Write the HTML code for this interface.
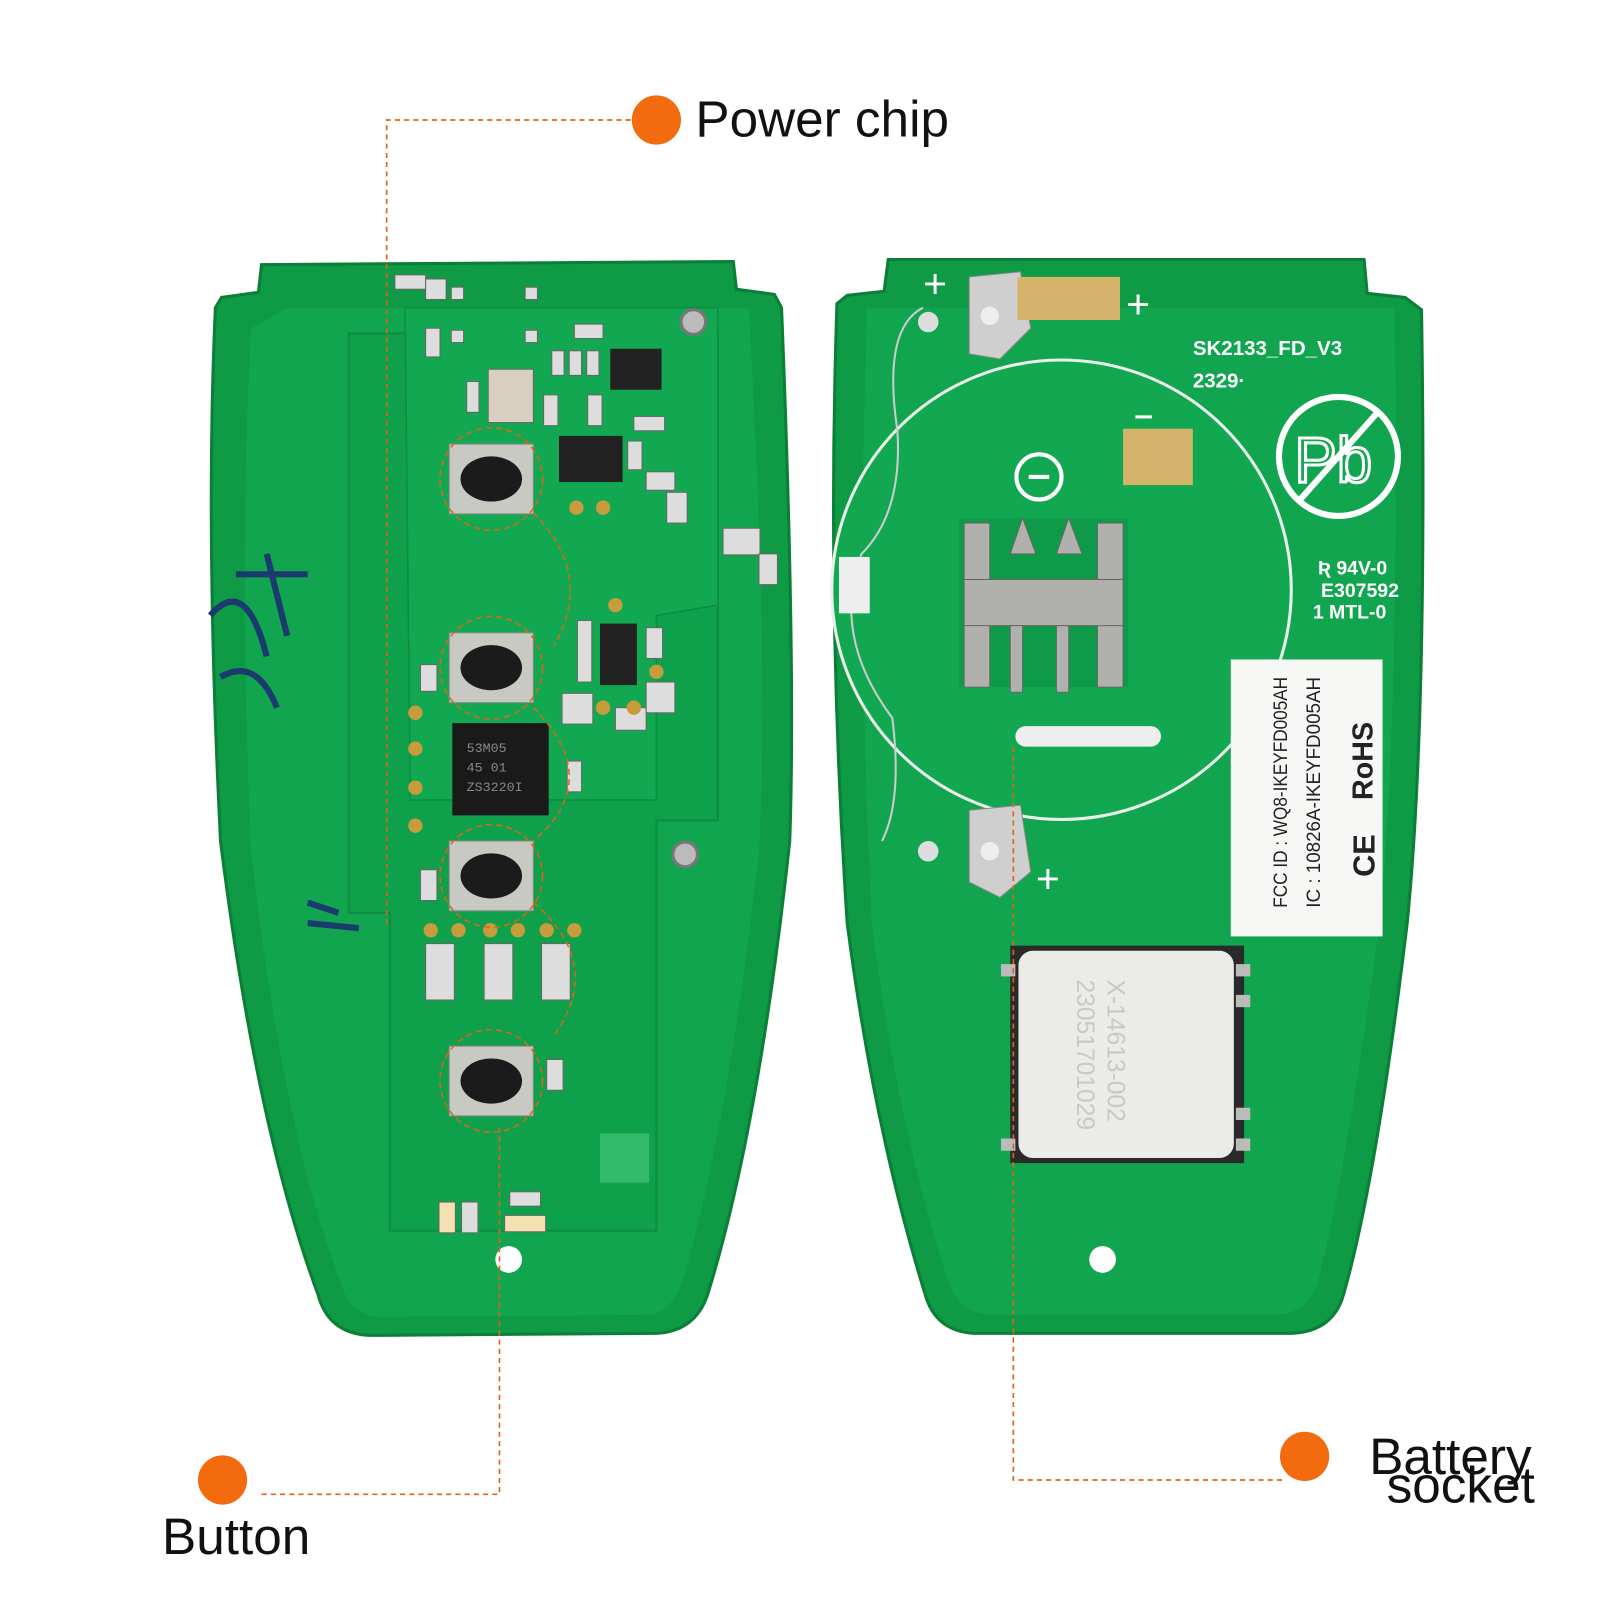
<!DOCTYPE html>
<html><head><meta charset="utf-8"><style>
html,body{margin:0;padding:0;background:#fff;}
svg{display:block}
</style></head><body>
<svg width="1600" height="1600" viewBox="0 0 1560 1560" xmlns="http://www.w3.org/2000/svg" font-family="Liberation Sans, sans-serif">
<rect width="1560" height="1560" fill="#fff"/>
<!-- LEFT BOARD -->
<path d="M255,258 L715,255 L718,282 L755,287 L762,300 Q776,650 770,820 Q740,1100 690,1262 Q678,1298 640,1300 L360,1302 Q320,1300 310,1262 Q250,1100 215,820 Q200,520 210,300 L216,290 L252,285 Z" fill="#0f9a45" stroke="#0b7f38" stroke-width="3"/>
<path d="M280,300 L730,300 Q750,650 740,830 Q710,1100 665,1250 Q655,1280 630,1282 L370,1284 Q340,1282 332,1250 Q275,1100 245,830 Q232,550 245,320 Z" fill="#11a550"/>
<path d="M340,325 L700,325 L700,800 L640,800 L640,1200 L380,1200 L380,890 L340,890 Z" fill="#0fa04c" stroke="#0d8c42" stroke-width="2"/>
<path d="M395,300 L700,300 L700,590 L640,600 L640,780 L400,780 Z" fill="#12a852" stroke="#0d8c42" stroke-width="1.5"/>
<!-- handwriting -->
<path d="M205,600 Q240,560 260,640 M215,660 Q250,640 270,690 M230,560 L300,560 M260,540 L280,620 M300,880 L330,890 M300,900 L350,905" stroke="#1b3a6e" stroke-width="6" fill="none"/>
<!-- components left -->
<g fill="#ddd" stroke="#666" stroke-width="1">
<rect x="385" y="268" width="30" height="14"/><rect x="415" y="272" width="20" height="20"/><rect x="440" y="280" width="12" height="12"/><rect x="512" y="280" width="12" height="12"/>
<rect x="415" y="320" width="14" height="28"/><rect x="440" y="322" width="12" height="12"/><rect x="512" y="322" width="12" height="12"/><rect x="560" y="316" width="28" height="14"/>
<rect x="476" y="360" width="44" height="52" fill="#d8cfc0"/><rect x="455" y="372" width="12" height="30"/>
<rect x="538" y="342" width="12" height="24"/><rect x="555" y="342" width="12" height="24"/><rect x="572" y="342" width="12" height="24"/>
<rect x="530" y="385" width="14" height="30"/><rect x="573" y="385" width="14" height="30"/><rect x="618" y="406" width="30" height="14"/>
<rect x="612" y="430" width="14" height="28"/><rect x="630" y="460" width="28" height="18"/><rect x="650" y="480" width="20" height="30"/>
<rect x="705" y="515" width="36" height="26"/><rect x="740" y="540" width="18" height="30"/>
<rect x="563" y="605" width="14" height="60"/><rect x="630" y="612" width="16" height="30"/>
<rect x="410" y="648" width="16" height="26"/><rect x="548" y="676" width="30" height="30"/><rect x="600" y="690" width="30" height="22"/><rect x="630" y="665" width="28" height="30"/>
<rect x="553" y="742" width="14" height="30"/><rect x="410" y="848" width="16" height="30"/>
<rect x="415" y="920" width="28" height="55"/><rect x="472" y="920" width="28" height="55"/><rect x="528" y="920" width="28" height="55"/>
<rect x="533" y="1033" width="16" height="30"/>
<rect x="428" y="1172" width="16" height="30" fill="#f4e0b0"/><rect x="450" y="1172" width="16" height="30"/><rect x="497" y="1162" width="30" height="14"/><rect x="492" y="1185" width="40" height="16" fill="#f4e0b0"/>
</g>
<rect x="595" y="340" width="50" height="40" fill="#222"/>
<rect x="545" y="425" width="62" height="45" fill="#222"/>
<rect x="585" y="608" width="36" height="60" fill="#222"/>
<rect x="441" y="705" width="94" height="90" fill="#1a1a1a"/>
<text x="455" y="733" font-size="13" fill="#888" font-family="Liberation Mono,monospace">53M05</text>
<text x="455" y="752" font-size="13" fill="#888" font-family="Liberation Mono,monospace">45 01</text>
<text x="455" y="771" font-size="13" fill="#888" font-family="Liberation Mono,monospace">ZS3220I</text>
<g fill="#c89b3c"><circle cx="562" cy="495" r="7"/><circle cx="588" cy="495" r="7"/><circle cx="600" cy="590" r="7"/><circle cx="405" cy="695" r="7"/><circle cx="405" cy="730" r="7"/><circle cx="405" cy="768" r="7"/><circle cx="405" cy="805" r="7"/><circle cx="588" cy="690" r="7"/><circle cx="618" cy="690" r="7"/><circle cx="640" cy="655" r="7"/>
<circle cx="420" cy="907" r="7"/><circle cx="447" cy="907" r="7"/><circle cx="478" cy="907" r="7"/><circle cx="505" cy="907" r="7"/><circle cx="533" cy="907" r="7"/><circle cx="560" cy="907" r="7"/></g>
<g>
<rect x="438" y="433" width="82" height="68" fill="#c9c9c3" stroke="#8a8a84"/><ellipse cx="479" cy="467" rx="30" ry="22" fill="#1b1b1b"/>
<rect x="438" y="617" width="82" height="68" fill="#c9c9c3" stroke="#8a8a84"/><ellipse cx="479" cy="651" rx="30" ry="22" fill="#1b1b1b"/>
<rect x="438" y="820" width="82" height="68" fill="#c9c9c3" stroke="#8a8a84"/><ellipse cx="479" cy="854" rx="30" ry="22" fill="#1b1b1b"/>
<rect x="438" y="1020" width="82" height="68" fill="#c9c9c3" stroke="#8a8a84"/><ellipse cx="479" cy="1054" rx="30" ry="22" fill="#1b1b1b"/>
</g>
<circle cx="676" cy="314" r="12" fill="#bbb" stroke="#777" stroke-width="3"/>
<circle cx="668" cy="833" r="12" fill="#bbb" stroke="#777" stroke-width="3"/>
<circle cx="496" cy="1228" r="13" fill="#fff"/>
<rect x="585" y="1105" width="48" height="48" fill="#3bbf72" opacity=".8"/>
<!-- orange dashed circles -->
<g fill="none" stroke="#e06418" stroke-width="1.5" stroke-dasharray="6,4">
<circle cx="479" cy="467" r="50"/><circle cx="479" cy="651" r="50"/><circle cx="479" cy="854" r="50"/><circle cx="479" cy="1054" r="50"/>
<path d="M520,500 Q580,560 540,630 M520,690 Q590,760 520,820 M520,880 Q590,940 540,1010"/>
</g>

<!-- RIGHT BOARD -->
<path d="M866,253 L1330,253 L1333,286 L1370,290 L1386,302 Q1392,700 1372,900 Q1342,1150 1310,1262 Q1300,1298 1260,1300 L950,1300 Q912,1298 902,1262 Q852,1100 826,900 Q806,600 816,296 L826,288 L862,284 Z" fill="#0f9a45" stroke="#0b7f38" stroke-width="3"/>
<path d="M845,300 L1360,300 Q1365,700 1345,900 Q1315,1130 1285,1250 Q1275,1280 1245,1282 L965,1282 Q935,1280 925,1250 Q875,1100 850,900 Q835,600 845,320 Z" fill="#11a550"/>
<circle cx="1035" cy="575" r="224" fill="#12a852" stroke="#e8f0e8" stroke-width="3"/>
<path d="M900,300 Q860,320 875,420 Q880,500 840,540 Q810,620 870,700 Q880,780 860,820" stroke="#ccc" stroke-width="2" fill="none"/>
<rect x="818" y="543" width="30" height="55" fill="#eee"/>
<polygon points="945,270 995,265 1005,320 975,350 945,345" fill="#cfcfcf" stroke="#888"/>
<circle cx="965" cy="308" r="9" fill="#eee"/>
<polygon points="945,790 995,785 1005,850 975,875 945,860" fill="#cfcfcf" stroke="#888"/>
<circle cx="965" cy="830" r="9" fill="#eee"/>
<circle cx="905" cy="314" r="10" fill="#ddd"/><circle cx="905" cy="830" r="10" fill="#ddd"/>
<rect x="992" y="270" width="100" height="42" fill="#d4b46a"/>
<rect x="1095" y="418" width="68" height="55" fill="#d4b46a"/>
<g fill="#fff" font-size="40"><text x="900" y="290">+</text><text x="1098" y="310">+</text><text x="1010" y="870">+</text></g>
<circle cx="1013" cy="465" r="22" fill="none" stroke="#fff" stroke-width="4"/><rect x="1003" y="463" width="20" height="4" fill="#fff"/>
<rect x="1107" y="405" width="16" height="3" fill="#fff"/>
<rect x="935" y="505" width="165" height="165" fill="#0e9a48"/>
<g fill="#b0b0ac" stroke="#666"><rect x="940" y="510" width="25" height="160"/><rect x="1070" y="510" width="25" height="160"/><rect x="940" y="565" width="155" height="45"/>
<polygon points="985,540 997,505 1010,540"/><polygon points="1030,540 1042,505 1055,540"/><rect x="985" y="610" width="12" height="65"/><rect x="1030" y="610" width="12" height="65"/></g>
<rect x="990" y="708" width="142" height="20" rx="10" fill="#eee"/>
<text x="1163" y="346" font-size="20" fill="#fff" font-weight="bold">SK2133_FD_V3</text>
<text x="1163" y="378" font-size="20" fill="#fff" font-weight="bold">2329·</text>
<circle cx="1305" cy="445" r="58" fill="none" stroke="#fff" stroke-width="6"/>
<text x="1262" y="470" font-size="62" fill="none" stroke="#fff" stroke-width="3">Pb</text>
<line x1="1265" y1="490" x2="1345" y2="400" stroke="#fff" stroke-width="6"/>
<g fill="#fff" font-size="19" font-weight="bold"><text x="1285" y="560">Ʀ 94V-0</text><text x="1288" y="582">E307592</text><text x="1280" y="603">1 MTL-0</text></g>
<rect x="1200" y="643" width="148" height="270" fill="#f7f7f5"/>
<g transform="translate(1255,885) rotate(-90)" fill="#222" font-size="19"><text x="0" y="0" textLength="225" lengthAdjust="spacingAndGlyphs">FCC ID : WQ8-IKEYFD005AH</text><text x="0" y="32" textLength="225" lengthAdjust="spacingAndGlyphs">IC :   10826A-IKEYFD005AH</text></g>
<text transform="translate(1338,780) rotate(-90)" font-size="28" font-weight="bold" fill="#222">RoHS</text>
<text transform="translate(1340,855) rotate(-90)" font-size="30" font-weight="bold" fill="#222">CE</text>
<rect x="985" y="922" width="228" height="212" fill="#2a2a2a"/>
<rect x="993" y="927" width="210" height="202" rx="14" fill="#ebebe8"/>
<g fill="#bbb"><rect x="976" y="940" width="14" height="12"/><rect x="976" y="1110" width="14" height="12"/><rect x="1205" y="940" width="14" height="12"/><rect x="1205" y="1110" width="14" height="12"/><rect x="1205" y="970" width="14" height="12"/><rect x="1205" y="1080" width="14" height="12"/></g>
<g transform="translate(1055,955) rotate(90)" fill="#c8c8c4" font-size="24"><text x="0" y="-25">X-14613-002</text><text x="0" y="5">23051701029</text></g>
<circle cx="1075" cy="1228" r="13" fill="#fff"/>

<!-- LABELS -->
<g fill="none" stroke="#e06418" stroke-width="1.6" stroke-dasharray="5,4">
<path d="M615,117 L377,117 L377,900"/>
<path d="M255,1457 L487,1457 L487,1100"/>
<path d="M1250,1443 L988,1443 L988,725"/>
</g>
<g fill="#f26b0f"><circle cx="640" cy="117" r="24"/><circle cx="217" cy="1443" r="24"/><circle cx="1272" cy="1420" r="24"/></g>
<g fill="#111" font-size="50"><text x="678" y="133">Power chip</text><text x="158" y="1515">Button</text>
<text x="1335" y="1437">Battery</text><text x="1352" y="1465">socket</text></g>
</svg>
</body></html>
